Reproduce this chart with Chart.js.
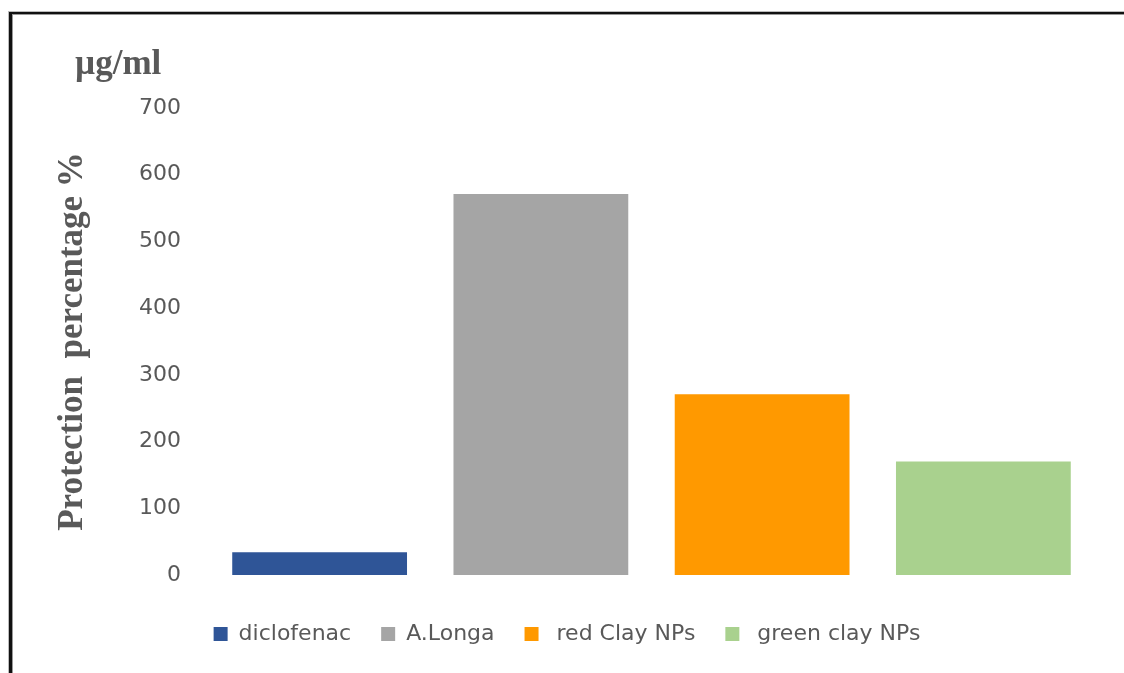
<!DOCTYPE html>
<html>
<head>
<meta charset="utf-8">
<script src="https://cdn.jsdelivr.net/npm/chart.js@4/dist/chart.umd.min.js"></script>
<style>
  html, body { margin: 0; padding: 0; background: #ffffff; }
  body { width: 1124px; height: 673px; overflow: hidden; position: relative; }
  #frame { position: absolute; left: 9px; top: 12px; width: 1300px; height: 900px;
           border-left: 3px solid #111; border-top: 2px solid #111;
           box-shadow: -1px -1px 0 #bbb, inset 1px 1px 0 #999; }
  #wrap { position: absolute; left: 0; top: 0; width: 1124px; height: 673px; }
</style>
</head>
<body>
<div id="frame"></div>
<div id="wrap"><canvas id="c"></canvas></div>
<script>
const categories = ["diclofenac", "A.Longa", " red Clay NPs", " green clay NPs"];
const values = [34, 571, 271, 170];
const barColors = ["#2F5597", "#A5A5A5", "#FF9900", "#A9D18E"];
const yTicks = [0, 100, 200, 300, 400, 500, 600, 700];
const yTitle = "Protection  percentage %";
const unitLabel = "\u00B5g/ml";

const unitPlugin = {
  id: 'unitLabel',
  afterDraw(chart) {
    const ctx = chart.ctx;
    const ys = chart.scales.y;
    ctx.save();
    ctx.font = 'bold 35px "Liberation Serif", "Times New Roman", serif';
    ctx.fillStyle = '#595959';
    ctx.textAlign = 'left';
    ctx.textBaseline = 'alphabetic';
    ctx.fillText(unitLabel, ys.left + 35, chart.chartArea.top - 34);
    ctx.restore();
  }
};

new Chart(document.getElementById('c'), {
  type: 'bar',
  data: {
    labels: categories,
    datasets: [{
      data: values,
      backgroundColor: barColors,
      borderWidth: 0,
      categoryPercentage: 1.0,
      barPercentage: 0.79
    }]
  },
  options: {
    responsive: true,
    maintainAspectRatio: false,
    animation: false,
    layout: { padding: { left: 40, right: 30, top: 108, bottom: 18 } },
    plugins: {
      tooltip: { enabled: false },
      title: { display: false },
      legend: {
        display: true,
        position: 'bottom',
        labels: {
          boxWidth: 14,
          boxHeight: 14,
          padding: 30,
          color: '#595959',
          font: { family: '"DejaVu Sans", sans-serif', size: 22 },
          generateLabels(chart) {
            return chart.data.labels.map((l, i) => ({
              text: l,
              fillStyle: barColors[i],
              strokeStyle: barColors[i],
              lineWidth: 0,
              hidden: false,
              index: i,
              fontColor: '#595959'
            }));
          }
        }
      }
    },
    scales: {
      x: {
        display: true,
        grid: { display: false, drawTicks: false },
        border: { display: false },
        ticks: { display: false },
        afterFit(scale) { scale.height = 18; }
      },
      y: {
        min: 0,
        max: 700,
        afterBuildTicks(scale) { scale.ticks = yTicks.map(v => ({ value: v })); },
        grid: { display: false, drawTicks: false },
        border: { display: false },
        ticks: {
          padding: 28,
          color: '#595959',
          font: { family: '"DejaVu Sans", sans-serif', size: 22 }
        },
        title: {
          display: true,
          text: yTitle,
          color: '#595959',
          font: { family: '"Liberation Serif", "Times New Roman", serif', size: 35, weight: 'bold' },
          padding: { top: 12, bottom: 0 }
        },
        afterFit(scale) { scale.width = 169; }
      }
    }
  },
  plugins: [unitPlugin]
});
</script>
</body>
</html>
